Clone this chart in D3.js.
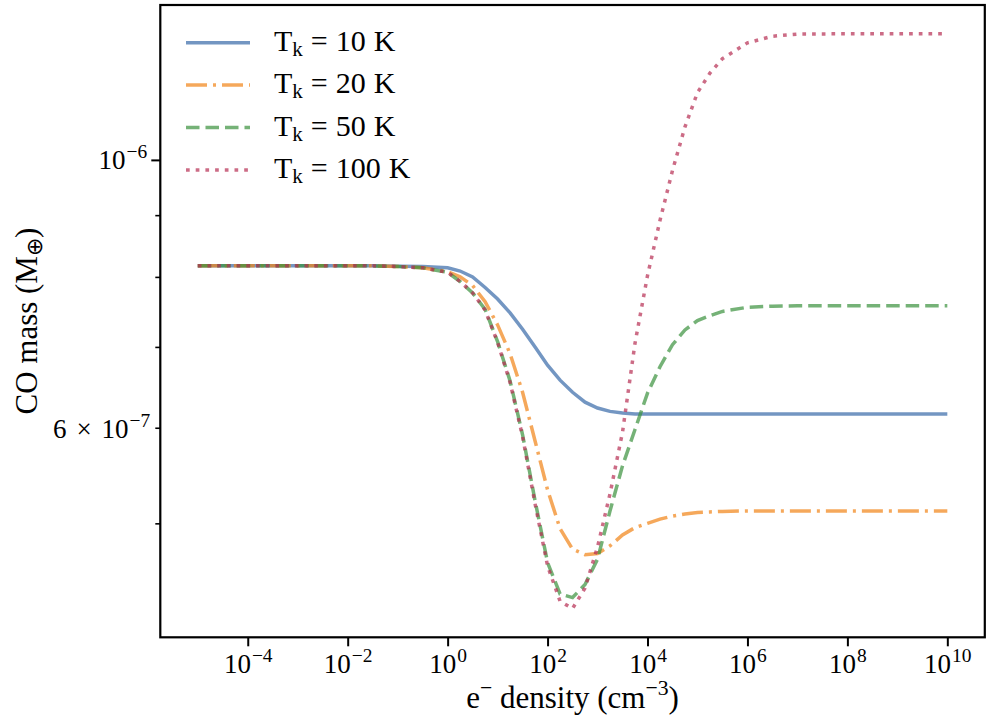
<!DOCTYPE html>
<html>
<head>
<meta charset="utf-8">
<script src="https://cdn.jsdelivr.net/npm/d3@7"></script>
<style>
  body { margin: 0; background: #fff; }
  svg text { font-family: "Liberation Serif", "Times New Roman", serif; fill: #000; }
</style>
</head>
<body>
<div id="chart"></div>
<script>
// log10 of the electron density (cm^-3), shared by every curve
const logDensity = [-5, -4, -3, -2, -1.5, -1, -0.5, 0, 0.25, 0.5, 0.75, 1, 1.25, 1.5, 1.75, 2,
  2.25, 2.5, 2.75, 3, 3.25, 3.5, 3.75, 4, 4.25, 4.5, 4.75, 5, 5.25, 5.5, 6, 6.5, 7, 8, 9, 10];

// CO mass in units of 1e-7 Earth masses
const mass10K = [8.17, 8.17, 8.17, 8.17, 8.17, 8.165, 8.16, 8.14, 8.09, 8.00, 7.84, 7.67, 7.47, 7.24, 7.00, 6.76,
  6.57, 6.42, 6.30, 6.23, 6.19, 6.17, 6.16, 6.16, 6.16, 6.16, 6.16, 6.16, 6.16, 6.16, 6.16, 6.16, 6.16, 6.16, 6.16, 6.16];
const mass20K = [8.17, 8.17, 8.17, 8.17, 8.17, 8.16, 8.14, 8.08, 8.00, 7.87, 7.63, 7.30, 6.91, 6.42, 5.85, 5.33,
  4.95, 4.76, 4.71, 4.72, 4.79, 4.89, 4.96, 5.00, 5.04, 5.07, 5.09, 5.105, 5.11, 5.115, 5.12, 5.12, 5.12, 5.12, 5.12, 5.12];
const mass50K = [8.17, 8.17, 8.17, 8.17, 8.17, 8.16, 8.14, 8.07, 7.93, 7.76, 7.52, 7.07, 6.56, 5.92, 5.22, 4.64,
  4.37, 4.34, 4.45, 4.67, 5.12, 5.58, 5.98, 6.41, 6.74, 7.03, 7.23, 7.36, 7.43, 7.49, 7.55, 7.565, 7.57, 7.57, 7.57, 7.57];
const mass100K = [8.17, 8.17, 8.17, 8.17, 8.17, 8.16, 8.14, 8.07, 7.93, 7.76, 7.51, 7.06, 6.54, 5.90, 5.19, 4.61,
  4.31, 4.25, 4.42, 4.78, 5.29, 5.95, 7.05, 8.02, 8.91, 9.80, 10.65, 11.37, 11.80, 12.13, 12.50, 12.66, 12.71, 12.72, 12.72, 12.72];

const temperatures = ['10', '20', '50', '100'];
const seriesMass = [mass10K, mass20K, mass50K, mass100K];

// tick definitions
const xTickExponents = [-4, -2, 0, 2, 4, 6, 8, 10];
const yMajorExponents = [-6];
const yMinorMantissas = [5, 6, 7, 8, 9];   // times 1e-7
const yLabelledMinor = [6];

const colors = ['#376aa8', '#f18316', '#3a913d', '#b62e52'];
const dashes = [null, '21,6,3,6', '13.5,6', '3.7,6'];

const W = 991, H = 721;
const margin = {top: 5, right: 6.2, bottom: 83.7, left: 160.3};
const tickFont = 27, labelFont = 31;

const svg = d3.select('#chart').append('svg')
    .attr('width', W)
    .attr('height', H);

// matplotlib-style 5% padding in log space
function padded(extent) {
  const span = extent[1] - extent[0];
  return [extent[0] - 0.05 * span, extent[1] + 0.05 * span];
}
const xLog = padded(d3.extent(logDensity));
const yLog = padded(d3.extent(seriesMass.flat(), v => Math.log10(v * 1e-7)));

const x = d3.scaleLog()
    .domain([10 ** xLog[0], 10 ** xLog[1]])
    .range([margin.left, W - margin.right]);
const y = d3.scaleLog()
    .domain([10 ** yLog[0], 10 ** yLog[1]])
    .range([H - margin.bottom, margin.top]);

const series = seriesMass.map((vals, i) => ({
  name: temperatures[i],
  points: logDensity.map((e, j) => ({x: 10 ** e, y: vals[j] * 1e-7}))
}));

svg.append('defs').append('clipPath').attr('id', 'clip')
  .append('rect')
    .attr('x', margin.left).attr('y', margin.top)
    .attr('width', W - margin.left - margin.right)
    .attr('height', H - margin.top - margin.bottom);

const line = d3.line().x(d => x(d.x)).y(d => y(d.y));

svg.append('g').attr('clip-path', 'url(#clip)')
  .selectAll('path')
  .data(series)
  .join('path')
    .attr('d', d => line(d.points))
    .attr('fill', 'none')
    .attr('stroke', (d, i) => colors[i])
    .attr('stroke-opacity', 0.7)
    .attr('stroke-width', 3.5)
    .attr('stroke-dasharray', (d, i) => dashes[i]);

// base text followed by a raised, smaller exponent
function powerLabel(sel, base, sup, raise) {
  sel.text(null);
  sel.append('tspan').text(base);
  sel.append('tspan').attr('font-size', '72%').attr('dx', 1).attr('dy', -raise).text(sup);
}
const expText = e => (e < 0 ? '\u2212' : '') + Math.abs(e);

// x axis
const xAxis = svg.append('g')
    .attr('transform', `translate(0,${H - margin.bottom})`)
    .call(d3.axisBottom(x)
      .tickValues(xTickExponents.map(e => 10 ** e))
      .tickSize(9)
      .tickFormat(''));
xAxis.select('.domain').remove();
xAxis.selectAll('.tick line').attr('stroke-width', 2);
xAxis.selectAll('.tick text')
    .attr('font-size', tickFont)
    .attr('dy', 0)
    .attr('y', 36)
    .each(function(d) {
      powerLabel(d3.select(this), '10', expText(Math.round(Math.log10(d))), 11);
    });

// y axis: major and minor ticks
const yAxisMajor = svg.append('g')
    .attr('transform', `translate(${margin.left},0)`)
    .call(d3.axisLeft(y)
      .tickValues(yMajorExponents.map(e => 10 ** e))
      .tickSize(9)
      .tickFormat(''));
yAxisMajor.select('.domain').remove();
yAxisMajor.selectAll('.tick line').attr('stroke-width', 2);
yAxisMajor.selectAll('.tick text')
    .attr('font-size', tickFont)
    .attr('x', -13)
    .attr('dy', 0)
    .attr('y', 9)
    .each(function(d) {
      powerLabel(d3.select(this), '10', expText(Math.round(Math.log10(d))), 11);
    });

const yAxisMinor = svg.append('g')
    .attr('transform', `translate(${margin.left},0)`)
    .call(d3.axisLeft(y)
      .tickValues(yMinorMantissas.map(m => m * 1e-7))
      .tickSize(5)
      .tickFormat(''));
yAxisMinor.select('.domain').remove();
yAxisMinor.selectAll('.tick line').attr('stroke-width', 1.6);
yAxisMinor.selectAll('.tick text')
    .attr('font-size', tickFont)
    .attr('x', -10)
    .attr('dy', 0)
    .attr('y', 10)
    .each(function(d) {
      const m = Math.round(d * 1e7);
      const sel = d3.select(this);
      sel.text(null);
      if (yLabelledMinor.includes(m)) {
        sel.append('tspan').text(m);
        sel.append('tspan').attr('dx', 10).text('\u00d7');
        sel.append('tspan').attr('dx', 10).text('10');
        sel.append('tspan').attr('font-size', '72%').attr('dx', 1).attr('dy', -11).text(expText(-7));
      }
    });

// frame
svg.append('rect')
    .attr('x', margin.left).attr('y', margin.top)
    .attr('width', W - margin.left - margin.right)
    .attr('height', H - margin.top - margin.bottom)
    .attr('fill', 'none')
    .attr('stroke', '#000')
    .attr('stroke-width', 2.2);

// axis titles
const xTitle = svg.append('text')
    .attr('x', (margin.left + W - margin.right) / 2)
    .attr('y', 708)
    .attr('text-anchor', 'middle')
    .attr('font-size', labelFont);
xTitle.append('tspan').text('e');
xTitle.append('tspan').attr('font-size', '70%').attr('dy', -13).text('\u2212');
xTitle.append('tspan').attr('dy', 13).text(' density (cm');
xTitle.append('tspan').attr('font-size', '70%').attr('dy', -13).text('\u22123');
xTitle.append('tspan').attr('dy', 13).text(')');

const yTitle = svg.append('text')
    .attr('transform', `translate(37,${(margin.top + H - margin.bottom) / 2}) rotate(-90)`)
    .attr('text-anchor', 'middle')
    .attr('font-size', labelFont);
yTitle.append('tspan').text('CO mass (M');
yTitle.append('tspan').attr('font-size', '70%').attr('dy', 5).text('\u2295');
yTitle.append('tspan').attr('dy', -5).text(')');

// legend
const rows = svg.append('g').selectAll('g')
  .data(series)
  .join('g')
    .attr('transform', (d, i) => `translate(186,${42.7 + i * 42.4})`);
rows.append('line')
    .attr('x1', 0).attr('x2', 64)
    .attr('stroke', (d, i) => colors[i])
    .attr('stroke-opacity', 0.7)
    .attr('stroke-width', 3.5)
    .attr('stroke-dasharray', (d, i) => dashes[i]);
rows.append('text')
    .attr('x', 88)
    .attr('y', 8)
    .attr('font-size', 30)
    .each(function(d) {
      const t = d3.select(this);
      t.append('tspan').text('T');
      t.append('tspan').attr('font-size', '70%').attr('dy', 5).text('k');
      t.append('tspan').attr('dy', -5).attr('dx', 8).text('=');
      t.append('tspan').attr('dx', 8).text(d.name);
      t.append('tspan').attr('dx', 8).text('K');
    });
</script>
</body>
</html>
